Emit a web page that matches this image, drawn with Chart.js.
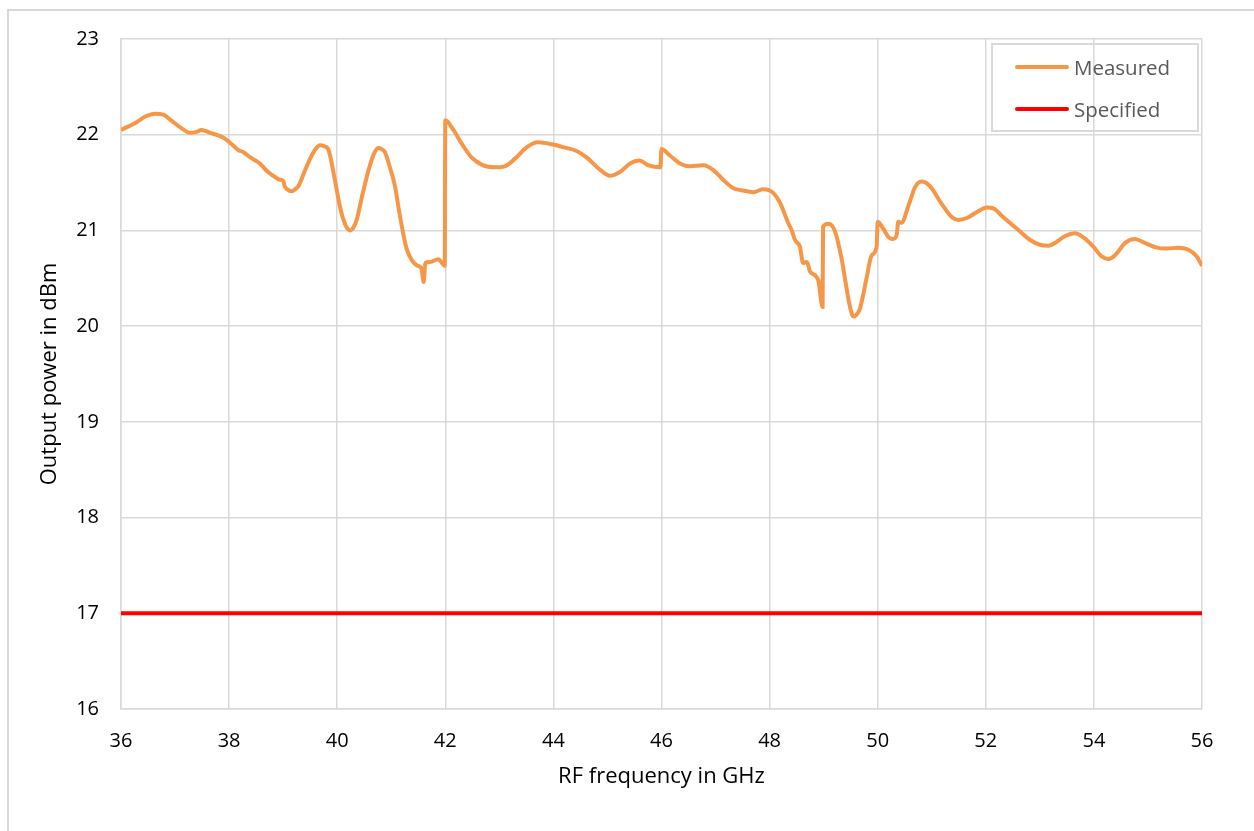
<!DOCTYPE html>
<html>
<head>
<meta charset="utf-8">
<script src="https://cdn.jsdelivr.net/npm/chart.js"></script>
<style>
    html, body { margin: 0; padding: 0; background: #fff; overflow: hidden; }
    #frame { position: absolute; left: 7px; top: 9px; width: 1300px; height: 900px;
             border-left: 2px solid #d9d9d9; border-top: 2px solid #d9d9d9; }
    #wrap { position: absolute; left: 0; top: 0; width: 1254px; height: 831px; }
    #legend { position: absolute; left: 991px; top: 43px; width: 204px; height: 85px;
              border: 2px solid #d9d9d9; font-family: 'Open Sans', sans-serif; font-size: 20.5px; color: #595959; }
    .item { position: absolute; left: 22px; height: 30px; display: flex; align-items: center; }
    .item span.swatch { display: inline-block; width: 54px; height: 4px; border-radius: 2px; margin-right: 5px; }
</style>
</head>
<body>
<div id="frame"></div>
<div id="wrap"><canvas id="chart" width="1254" height="831"></canvas></div>
<div id="legend"></div>
<script>
// RF output power vs frequency
const freqGHz = [36.00, 36.15, 36.29, 36.45, 36.63, 36.78, 36.95, 37.09, 37.28, 37.40,
    37.49, 37.65, 37.89, 38.05, 38.17, 38.26, 38.40, 38.57, 38.70, 38.82,
    38.94, 39.00, 39.03, 39.10, 39.16, 39.22, 39.28, 39.40, 39.50, 39.60,
    39.68, 39.76, 39.84, 39.95, 40.05, 40.15, 40.24, 40.30, 40.36, 40.47,
    40.58, 40.68, 40.76, 40.82, 40.88, 40.98, 41.07, 41.14, 41.22, 41.29,
    41.38, 41.46, 41.53, 41.56, 41.60, 41.63, 41.72, 41.87, 41.99, 42.00,
    42.15, 42.30, 42.49, 42.70, 42.92, 43.10, 43.29, 43.51, 43.72, 43.97,
    44.18, 44.43, 44.62, 44.83, 45.05, 45.23, 45.42, 45.59, 45.76, 45.98,
    46.00, 46.16, 46.34, 46.53, 46.77, 46.96, 47.14, 47.33, 47.48, 47.70,
    47.88, 48.07, 48.20, 48.35, 48.41, 48.47, 48.56, 48.62, 48.69, 48.75,
    48.90, 48.98, 48.99, 49.09, 49.21, 49.33, 49.42, 49.48, 49.55, 49.61,
    49.67, 49.74, 49.80, 49.89, 49.98, 50.00, 50.10, 50.20, 50.28, 50.35,
    50.38, 50.44, 50.57, 50.69, 50.81, 50.97, 51.18, 51.37, 51.49, 51.65,
    51.83, 52.02, 52.14, 52.32, 52.57, 52.82, 53.00, 53.16, 53.31, 53.46,
    53.65, 53.80, 53.99, 54.14, 54.27, 54.39, 54.58, 54.76, 54.94, 55.16,
    55.34, 55.56, 55.74, 55.90, 56.00];
const measuredDbm = [22.05, 22.09, 22.13, 22.19, 22.22, 22.21, 22.14, 22.08, 22.02, 22.03,
    22.05, 22.02, 21.97, 21.90, 21.84, 21.82, 21.76, 21.70, 21.62, 21.57,
    21.53, 21.52, 21.46, 21.42, 21.41, 21.43, 21.46, 21.62, 21.75, 21.85,
    21.89, 21.88, 21.84, 21.55, 21.25, 21.06, 21.00, 21.03, 21.11, 21.38,
    21.63, 21.80, 21.86, 21.85, 21.82, 21.65, 21.46, 21.22, 20.97, 20.80,
    20.69, 20.64, 20.62, 20.60, 20.46, 20.66, 20.67, 20.70, 20.63, 22.15,
    22.05, 21.91, 21.76, 21.68, 21.66, 21.67, 21.75, 21.87, 21.92, 21.90,
    21.87, 21.83, 21.76, 21.65, 21.57, 21.61, 21.70, 21.73, 21.68, 21.66,
    21.85, 21.78, 21.70, 21.67, 21.68, 21.63, 21.53, 21.44, 21.42, 21.40,
    21.43, 21.39, 21.28, 21.07, 21.00, 20.90, 20.83, 20.66, 20.67, 20.57,
    20.48, 20.20, 21.04, 21.07, 20.99, 20.71, 20.41, 20.22, 20.10, 20.12,
    20.18, 20.35, 20.52, 20.74, 20.83, 21.09, 21.02, 20.93, 20.91, 20.95,
    21.09, 21.08, 21.26, 21.45, 21.51, 21.46, 21.28, 21.14, 21.11, 21.13,
    21.19, 21.24, 21.23, 21.14, 21.02, 20.90, 20.85, 20.84, 20.88, 20.94,
    20.97, 20.93, 20.83, 20.73, 20.70, 20.74, 20.87, 20.91, 20.87, 20.82,
    20.81, 20.82, 20.80, 20.73, 20.63];
const specFreqGHz = [36, 56];
const specifiedDbm = [17, 17];

const xTicks = [36, 38, 40, 42, 44, 46, 48, 50, 52, 54, 56];
const yTicks = [16, 17, 18, 19, 20, 21, 22, 23];

const toPoints = (xs, ys) => xs.map((x, i) => ({ x: x, y: ys[i] }));

const tickFont = { family: 'Open Sans, sans-serif', size: 20 };
const titleFont = { family: 'Open Sans, sans-serif', size: 22 };
const gridColor = '#d9d9d9';

const chart = new Chart(document.getElementById('chart'), {
    type: 'line',
    data: {
        datasets: [{
            label: 'Measured',
            data: toPoints(freqGHz, measuredDbm),
            borderColor: '#f79646',
            borderWidth: 4,
            pointRadius: 0,
            cubicInterpolationMode: 'monotone',
            fill: false
        }, {
            label: 'Specified',
            data: toPoints(specFreqGHz, specifiedDbm),
            borderColor: '#ff0000',
            borderWidth: 4,
            pointRadius: 0,
            fill: false
        }]
    },
    options: {
        responsive: false,
        animation: false,
        layout: { padding: { left: 0, top: 39, right: 52, bottom: 0 } },
        plugins: {
            legend: { display: false },
            tooltip: { enabled: false }
        },
        scales: {
            x: {
                type: 'linear',
                min: 36,
                max: 56,
                afterBuildTicks: scale => { scale.ticks = xTicks.map(v => ({ value: v })); },
                afterFit: scale => { scale.height = 122; },
                grid: { color: gridColor, lineWidth: 1.5, drawTicks: false },
                border: { color: gridColor, width: 1.5 },
                ticks: { font: tickFont, color: '#000', padding: 20, maxRotation: 0 },
                title: { display: true, text: 'RF frequency in GHz', font: titleFont, color: '#000',
                         padding: { top: 0, bottom: 41 } }
            },
            y: {
                min: 16,
                max: 23,
                afterBuildTicks: scale => { scale.ticks = yTicks.map(v => ({ value: v })); },
                afterFit: scale => { scale.width = 121; },
                grid: { color: gridColor, lineWidth: 1.5, drawTicks: false },
                border: { color: gridColor, width: 1.5 },
                ticks: { font: tickFont, color: '#000', padding: 22 },
                title: { display: true, text: 'Output power in dBm', font: titleFont, color: '#000',
                         padding: { top: 37, bottom: 0 } }
            }
        }
    }
});

// HTML legend built from the datasets
const legend = document.getElementById('legend');
chart.data.datasets.forEach((ds, i) => {
    const item = document.createElement('div');
    item.className = 'item';
    item.style.top = (7 + i * 42) + 'px';
    const sw = document.createElement('span');
    sw.className = 'swatch';
    sw.style.background = ds.borderColor;
    item.appendChild(sw);
    item.appendChild(document.createTextNode(ds.label));
    legend.appendChild(item);
});
</script>
</body>
</html>
